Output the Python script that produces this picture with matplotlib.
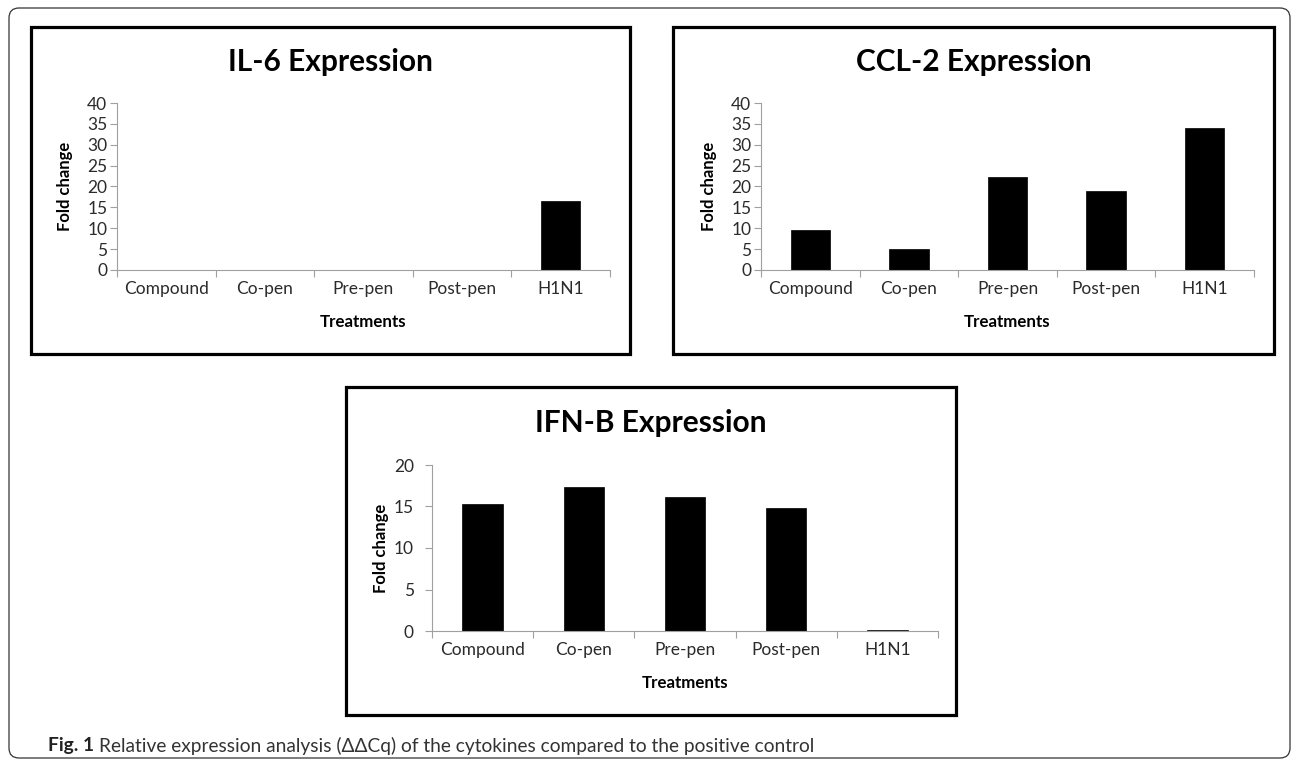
import matplotlib
matplotlib.use("Agg")
import matplotlib.pyplot as plt
from matplotlib.patches import Rectangle, FancyBboxPatch
from matplotlib.transforms import IdentityTransform

plt.rcParams['font.family'] = ['Lato', 'DejaVu Sans']

# Data
categories = ["Compound", "Co-pen", "Pre-pen", "Post-pen", "H1N1"]
il6 = [0, 0, 0, 0, 16.6]
ccl2 = [9.6, 5.1, 22.3, 19.0, 34.1]
ifnb = [15.3, 17.4, 16.2, 14.8, 0.1]

W, H = 1292, 761
fig = plt.figure(figsize=(W / 100, H / 100), dpi=100)
fig.patch.set_facecolor("white")

AXIS_GRAY = "#a0a0a0"
TEXT_GRAY = "#2b2b2b"


def px_axes(x0, y0, x1, y1):
    # pixel box (top-left origin) -> figure axes
    return fig.add_axes([x0 / W, 1 - y1 / H, (x1 - x0) / W, (y1 - y0) / H])


def panel_box(x0, y0, x1, y1):
    fig.add_artist(Rectangle((x0 / W, 1 - y1 / H), (x1 - x0) / W, (y1 - y0) / H,
                             transform=fig.transFigure, fill=False,
                             edgecolor="black", linewidth=2.3))


def bar_panel(ax, values, ymax, step, ytick_pad, ylab_x, height_px):
    x = list(range(len(categories)))
    ax.bar(x, values, width=0.4, color="black", edgecolor="black", linewidth=0.5)
    ax.set_xlim(-0.5, len(categories) - 0.5)
    ax.set_ylim(0, ymax)
    ax.set_yticks(range(0, ymax + 1, step))
    ax.set_xticks(x)
    ax.set_xticklabels(categories)
    ax.set_xticks([i - 0.5 for i in range(len(categories) + 1)], minor=True)
    ax.tick_params(axis="x", which="major", length=0, pad=8,
                   labelsize=12.5, labelcolor=TEXT_GRAY)
    ax.tick_params(axis="x", which="minor", length=5, width=0.8, color=AXIS_GRAY,
                   direction="out")
    ax.tick_params(axis="y", length=5, width=0.8, color=AXIS_GRAY, pad=ytick_pad,
                   labelsize=12.5, labelcolor=TEXT_GRAY)
    for s in ["top", "right"]:
        ax.spines[s].set_visible(False)
    for s in ["left", "bottom"]:
        ax.spines[s].set_color(AXIS_GRAY)
        ax.spines[s].set_linewidth(0.8)
    ax.set_ylabel("Fold change", fontsize=12, fontweight="bold", color="black")
    ax.yaxis.set_label_coords(ylab_x, 0.5)
    ax.yaxis.label.set_va("center")
    ax.set_xlabel("Treatments", fontsize=12.2, fontweight="bold", color="black")
    ax.xaxis.set_label_coords(0.5, -52 / height_px)
    ax.xaxis.label.set_va("center")


# outer rounded frame
fig.add_artist(FancyBboxPatch((9, H - 758), 1281, 750,
                              boxstyle="round,pad=0,rounding_size=10",
                              transform=IdentityTransform(), fill=False,
                              edgecolor="#333333", linewidth=0.9))

# IL-6 panel
panel_box(31, 27, 630, 354)
ax1 = px_axes(117, 103, 610, 270)
bar_panel(ax1, il6, 40, 5, 2, -0.105, 167)
fig.text(330 / W, 1 - 62 / H, "IL-6 Expression", ha="center", va="center",
         fontsize=21.5, fontweight="bold")

# CCL-2 panel
panel_box(673, 27, 1274, 354)
ax2 = px_axes(761, 103, 1254, 270)
bar_panel(ax2, ccl2, 40, 5, 2, -0.105, 167)
fig.text(974 / W, 1 - 62 / H, "CCL-2 Expression", ha="center", va="center",
         fontsize=21.5, fontweight="bold")

# IFN-B panel
panel_box(346, 387, 956, 715)
ax3 = px_axes(432, 465, 938, 631)
bar_panel(ax3, ifnb, 20, 5, 8, -0.101, 166)
fig.text(651 / W, 1 - 423 / H, "IFN-B Expression", ha="center", va="center",
         fontsize=21.5, fontweight="bold")

# caption: bold lead-in followed by regular text
cap_y = 1 - 746 / H
t1 = fig.text(48 / W, cap_y, "Fig. 1", ha="left", va="center",
              fontsize=13.8, fontweight="bold", color="#222222")
fig.canvas.draw()
bb = t1.get_window_extent()
fig.text((bb.x1 + 5) / W, cap_y,
         "Relative expression analysis (ΔΔCq) of the cytokines compared to the positive control",
         ha="left", va="center", fontsize=13.8, color="#333333")

fig.savefig("out.png", dpi=100)
